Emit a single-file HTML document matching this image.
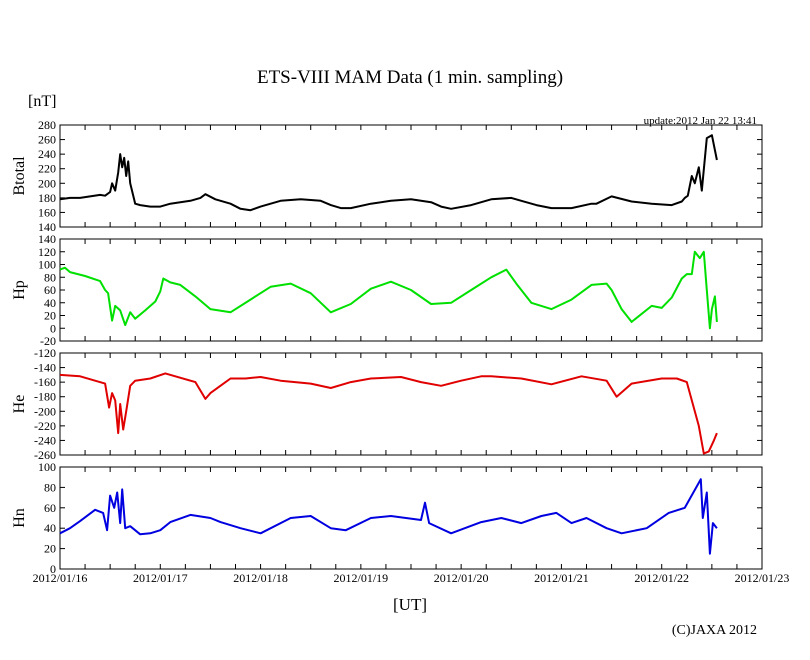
<!DOCTYPE html>
<html><head><meta charset="utf-8"><style>
body{margin:0;background:#fff;}
svg text{font-family:"Liberation Serif",serif;fill:#000;}
</style></head><body>
<svg id="c" width="810" height="655" viewBox="0 0 810 655">
<text x="410" y="83" font-size="19" text-anchor="middle">ETS-VIII MAM Data (1 min. sampling)</text>
<text x="28" y="106" font-size="16">[nT]</text>
<text x="757" y="124" font-size="11" text-anchor="end">update:2012 Jan 22 13:41</text>
<text x="410" y="610" font-size="17" text-anchor="middle">[UT]</text>
<text x="757" y="634" font-size="14" text-anchor="end">(C)JAXA 2012</text>
<g id="plots"></g>
</svg>
<script>
const xTickLabels = ["2012/01/16","2012/01/17","2012/01/18","2012/01/19","2012/01/20","2012/01/21","2012/01/22","2012/01/23"];
const panelNames = ["Btotal","Hp","He","Hn"];
const panelColors = ["#000","#00e000","#e00000","#0000e0"];
const yMins = [140,-20,-260,0];
const yMaxs = [280,140,-120,100];
const yStep = [20,20,20,20];
// time in days since 2012/01/16 00:00
const btT = [0,0.1,0.2,0.3,0.4,0.45,0.5,0.52,0.55,0.58,0.6,0.62,0.64,0.66,0.68,0.7,0.75,0.8,0.9,1.0,1.1,1.2,1.3,1.4,1.45,1.55,1.7,1.8,1.9,2.0,2.2,2.4,2.6,2.7,2.8,2.9,3.1,3.3,3.5,3.7,3.8,3.9,4.1,4.3,4.5,4.6,4.75,4.9,5.1,5.3,5.35,5.5,5.7,5.9,6.1,6.2,6.23,6.26,6.3,6.33,6.37,6.4,6.45,6.5,6.55];
const btV = [178,180,180,182,184,183,188,200,190,215,240,222,235,210,230,200,172,170,168,168,172,174,176,180,185,178,172,165,163,168,176,178,176,170,166,166,172,176,178,174,168,165,170,178,180,176,170,166,166,172,172,182,175,172,170,175,180,183,210,200,222,190,262,266,232];
const hpT = [0,0.05,0.1,0.25,0.4,0.45,0.48,0.52,0.55,0.6,0.65,0.7,0.75,0.85,0.95,1.0,1.03,1.1,1.2,1.35,1.5,1.7,1.9,2.1,2.3,2.5,2.7,2.9,3.1,3.3,3.5,3.7,3.9,4.1,4.3,4.45,4.55,4.7,4.9,5.1,5.3,5.45,5.5,5.6,5.7,5.9,6.0,6.1,6.2,6.25,6.3,6.33,6.38,6.42,6.45,6.48,6.5,6.53,6.55];
const hpV = [92,95,88,82,74,60,55,12,35,28,5,25,15,28,42,58,78,72,68,50,30,25,45,65,70,55,25,38,62,73,60,38,40,60,80,92,70,40,30,45,68,70,60,30,10,35,32,48,78,85,85,120,110,120,60,0,30,50,10];
const heT = [0,0.2,0.35,0.45,0.49,0.52,0.55,0.58,0.6,0.63,0.66,0.7,0.75,0.9,1.05,1.35,1.45,1.5,1.7,1.85,2.0,2.2,2.5,2.7,2.9,3.1,3.4,3.6,3.8,4.0,4.2,4.3,4.6,4.9,5.2,5.45,5.55,5.7,6.0,6.15,6.25,6.3,6.37,6.42,6.47,6.52,6.55];
const heV = [-150,-152,-158,-162,-195,-175,-185,-230,-190,-225,-200,-165,-158,-155,-148,-160,-183,-175,-155,-155,-153,-158,-162,-168,-160,-155,-153,-160,-165,-158,-152,-152,-155,-163,-152,-158,-180,-162,-155,-155,-160,-185,-220,-258,-255,-240,-230];
const hnT = [0,0.1,0.2,0.35,0.43,0.47,0.5,0.54,0.57,0.6,0.62,0.65,0.7,0.8,0.9,1.0,1.1,1.3,1.5,1.6,1.8,2.0,2.3,2.5,2.7,2.85,3.1,3.3,3.6,3.64,3.68,3.9,4.2,4.4,4.6,4.8,4.95,5.1,5.25,5.45,5.6,5.85,6.07,6.23,6.39,6.41,6.45,6.48,6.51,6.55];
const hnV = [35,40,47,58,55,38,72,60,75,45,78,40,42,34,35,38,46,53,50,46,40,35,50,52,40,38,50,52,48,65,45,35,46,50,45,52,55,45,50,40,35,40,55,60,88,50,75,15,45,40];
const series = [[btT,btV],[hpT,hpV],[heT,heV],[hnT,hnV]];

const NS="http://www.w3.org/2000/svg";
const g=document.getElementById('plots');
const X0=60,X1=762,DAYS=7,tops=[125,239,353,467],H=102;
function mk(tag,attrs,parent){const e=document.createElementNS(NS,tag);for(const k in attrs)e.setAttribute(k,attrs[k]);(parent||g).appendChild(e);return e;}
function xs(d){return X0+(X1-X0)*d/DAYS;}
for(let p=0;p<4;p++){
  const top=tops[p],bot=top+H;
  const ys=v=>bot-(v-yMins[p])/(yMaxs[p]-yMins[p])*H;
  const pg=mk('g',{});
  
  
  const fr=mk('rect',{x:X0,y:top,width:X1-X0,height:H,fill:'none',stroke:'#000','stroke-width':1},pg);
  
  
  for(let v=yMins[p];v<=yMaxs[p];v+=yStep[p]){
    const y=ys(v);
    mk('line',{x1:X0,x2:X0+5,y1:y,y2:y,stroke:'#000'},pg);
    mk('line',{x1:X1,x2:X1-5,y1:y,y2:y,stroke:'#000'},pg);
    const t=mk('text',{x:X0-4,y:y+4,'font-size':12,'text-anchor':'end'},pg);
    t.textContent=v;
    
    
  }
  for(let q=1;q<DAYS*4;q++){
    const x=xs(q/4);
    mk('line',{x1:x,x2:x,y1:bot,y2:bot-5,stroke:'#000'},pg);
    mk('line',{x1:x,x2:x,y1:top,y2:top+5,stroke:'#000'},pg);
  }
  const lab=mk('text',{x:0,y:0,'font-size':16,'text-anchor':'middle',transform:`translate(24,${top+H/2}) rotate(-90)`},pg);
  lab.textContent=panelNames[p];
  
  
  const [T,V]=series[p];
  const pts=T.map((d,i)=>xs(d).toFixed(1)+','+ys(V[i]).toFixed(1)).join(' ');
  const pl=mk('polyline',{points:pts,fill:'none',stroke:panelColors[p],'stroke-width':2,'stroke-linejoin':'round'},pg);
  
  
}
xTickLabels.forEach((s,i)=>{
  const t=mk('text',{x:xs(i),y:582,'font-size':12,'text-anchor':'middle'});
  t.textContent=s;
  
  
});
</script>
</body></html>
